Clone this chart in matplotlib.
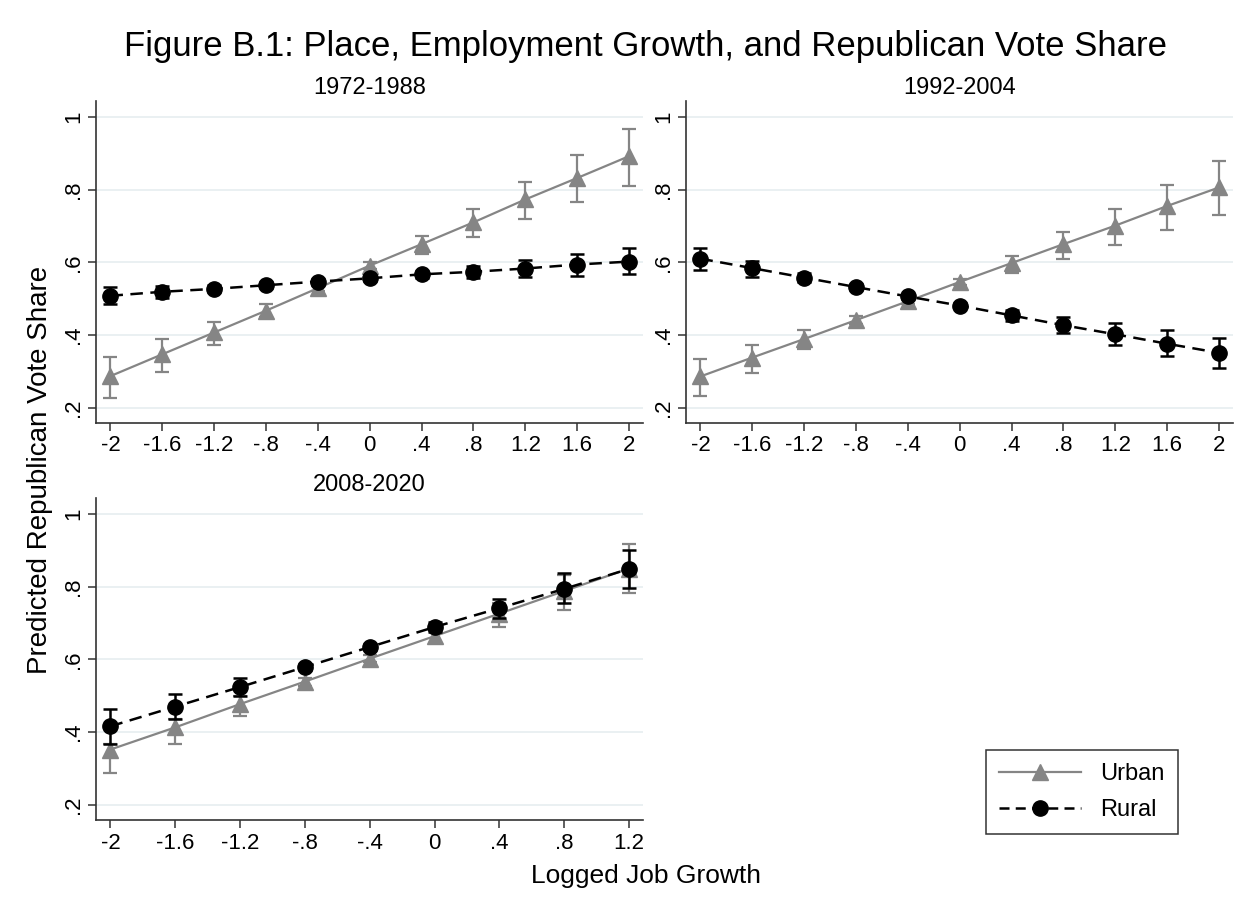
import numpy as np
import matplotlib
matplotlib.use("Agg")
import matplotlib.pyplot as plt
from matplotlib.lines import Line2D

plt.rcParams['font.family'] = ['Liberation Sans', 'DejaVu Sans']

# ---- data ----
x_full = [-2, -1.6, -1.2, -0.8, -0.4, 0, 0.4, 0.8, 1.2, 1.6, 2]
x_short = [-2, -1.6, -1.2, -0.8, -0.4, 0, 0.4, 0.8, 1.2]

# 1972-1988
urb1 = [0.287, 0.347, 0.407, 0.467, 0.529, 0.591, 0.650, 0.710, 0.773, 0.832, 0.892]
urb1_lo = [0.226, 0.299, 0.373, 0.449, 0.520, 0.582, 0.622, 0.670, 0.718, 0.765, 0.811]
urb1_hi = [0.340, 0.388, 0.436, 0.484, 0.538, 0.600, 0.672, 0.746, 0.820, 0.895, 0.968]
rur1 = [0.508, 0.519, 0.527, 0.537, 0.547, 0.556, 0.567, 0.574, 0.583, 0.594, 0.602]
rur1_lo = [0.484, 0.501, 0.517, 0.529, 0.539, 0.548, 0.556, 0.556, 0.560, 0.563, 0.569]
rur1_hi = [0.533, 0.536, 0.537, 0.545, 0.555, 0.564, 0.577, 0.591, 0.607, 0.623, 0.639]

# 1992-2004
urb2 = [0.286, 0.338, 0.389, 0.441, 0.493, 0.546, 0.598, 0.650, 0.701, 0.755, 0.806]
urb2_lo = [0.231, 0.295, 0.362, 0.429, 0.485, 0.538, 0.570, 0.609, 0.649, 0.689, 0.729]
urb2_hi = [0.333, 0.373, 0.413, 0.453, 0.501, 0.554, 0.618, 0.684, 0.748, 0.813, 0.878]
rur2 = [0.610, 0.584, 0.558, 0.532, 0.506, 0.481, 0.454, 0.427, 0.402, 0.376, 0.351]
rur2_lo = [0.580, 0.560, 0.546, 0.524, 0.499, 0.473, 0.439, 0.406, 0.373, 0.342, 0.308]
rur2_hi = [0.639, 0.605, 0.570, 0.540, 0.513, 0.489, 0.469, 0.449, 0.432, 0.413, 0.393]

# 2008-2020
urb3 = [0.352, 0.413, 0.477, 0.539, 0.602, 0.664, 0.726, 0.788, 0.850]
urb3_lo = [0.288, 0.366, 0.444, 0.528, 0.592, 0.646, 0.689, 0.737, 0.783]
urb3_hi = [0.366, 0.435, 0.499, 0.550, 0.612, 0.680, 0.754, 0.833, 0.918]
rur3 = [0.416, 0.470, 0.524, 0.579, 0.634, 0.689, 0.741, 0.794, 0.849]
rur3_lo = [0.366, 0.435, 0.499, 0.570, 0.625, 0.676, 0.714, 0.754, 0.797]
rur3_hi = [0.464, 0.506, 0.548, 0.588, 0.643, 0.702, 0.767, 0.837, 0.902]

yticks = [0.2, 0.4, 0.6, 0.8, 1.0]
ylabels = ['.2', '.4', '.6', '.8', '1']
xlab_full = ['-2', '-1.6', '-1.2', '-.8', '-.4', '0', '.4', '.8', '1.2', '1.6', '2']
xlab_short = ['-2', '-1.6', '-1.2', '-.8', '-.4', '0', '.4', '.8', '1.2']

URB = '#858585'
RUR = '#000000'
GRID = '#e6edf0'

fig = plt.figure(figsize=(12.51, 9.09), dpi=100)

def panel(rect, xs, xl, u, ulo, uhi, r, rlo, rhi, title):
    ax = fig.add_axes(rect)
    xs = np.array(xs)
    u = np.array(u); r = np.array(r)
    ax.errorbar(xs, u, yerr=[u - np.array(ulo), np.array(uhi) - u], color=URB,
                marker='^', markersize=11, lw=1.6, capsize=5, capthick=1.6,
                elinewidth=1.6, zorder=3)
    ax.errorbar(xs, r, yerr=[r - np.array(rlo), np.array(rhi) - r], color=RUR,
                marker='o', markersize=11, lw=1.8, ls=(0, (5, 3)), capsize=5,
                capthick=1.8, elinewidth=1.8, zorder=4)
    pad = (xs[-1] - xs[0]) * 14.0 / 518
    ax.set_xlim(xs[0] - pad, xs[-1] + pad)
    ax.set_ylim(0.158, 1.044)
    ax.set_yticks(yticks)
    ax.set_yticklabels(ylabels, rotation=90, va='center', fontsize=16)
    ax.set_xticks(xs)
    ax.set_xticklabels(xl, fontsize=16)
    for yv in yticks:
        ax.axhline(yv, color=GRID, lw=1.2, zorder=0)
    for s in ['top', 'right']:
        ax.spines[s].set_visible(False)
    for s in ['left', 'bottom']:
        ax.spines[s].set_color('#333333')
        ax.spines[s].set_linewidth(1.2)
    ax.tick_params(direction='out', length=6, width=1.1, color='#333333', pad=3)
    ax.set_title(title, fontsize=17, pad=5)
    return ax

panel([0.0771, 0.5347, 0.4369, 0.3542], x_full, xlab_full,
      urb1, urb1_lo, urb1_hi, rur1, rur1_lo, rur1_hi, '1972-1988')
panel([0.5487, 0.5347, 0.4369, 0.3542], x_full, xlab_full,
      urb2, urb2_lo, urb2_hi, rur2, rur2_lo, rur2_hi, '1992-2004')
panel([0.0771, 0.0979, 0.4369, 0.3542], x_short, xlab_short,
      urb3, urb3_lo, urb3_hi, rur3, rur3_lo, rur3_hi, '2008-2020')

fig.text(0.516, 0.949, 'Figure B.1: Place, Employment Growth, and Republican Vote Share',
         ha='center', va='center', fontsize=25)
fig.text(0.032, 0.483, 'Predicted Republican Vote Share', rotation=90,
         ha='center', va='center', fontsize=20)
fig.text(0.516, 0.036, 'Logged Job Growth', ha='center', va='center', fontsize=19)

handles = [Line2D([], [], color=URB, marker='^', markersize=11, lw=1.6),
           Line2D([], [], color=RUR, marker='o', markersize=11, lw=1.8, ls=(0, (4, 2.5)))]
leg = fig.legend(handles, ['Urban', 'Rural'], loc='upper left',
                 bbox_to_anchor=(0.788, 0.175), fontsize=17, frameon=True,
                 fancybox=False, handlelength=3.5, borderpad=0.55,
                 labelspacing=0.6, handletextpad=0.8, borderaxespad=0)
leg.get_frame().set_edgecolor('black')
leg.get_frame().set_linewidth(1.1)

fig.savefig('out.png', dpi=100)
